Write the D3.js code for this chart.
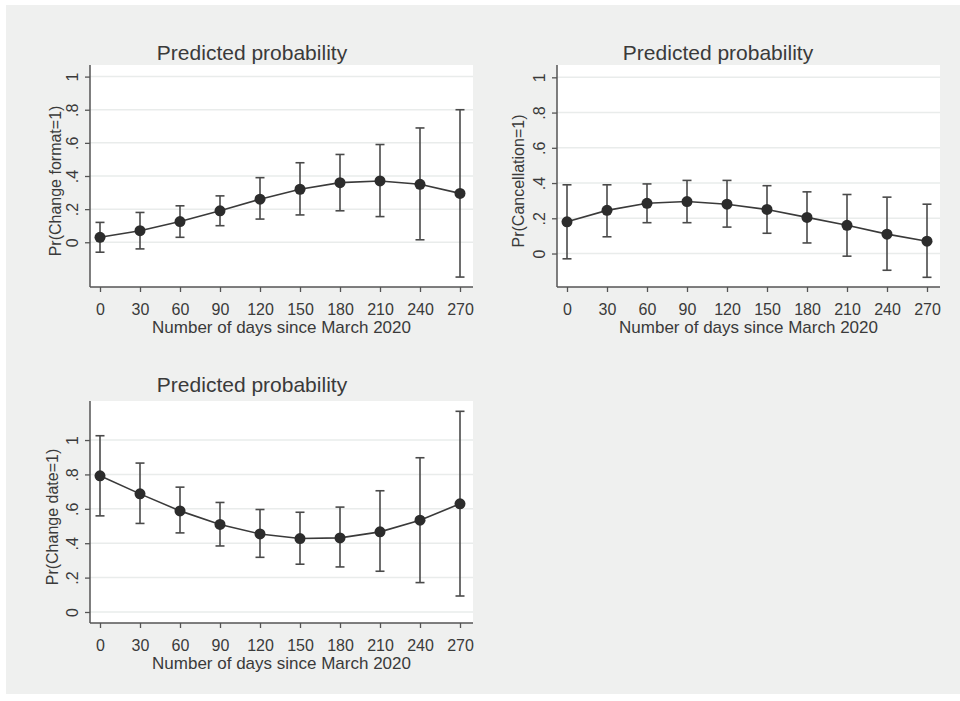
<!DOCTYPE html>
<html>
<head>
<meta charset="utf-8">
<script src="https://cdn.jsdelivr.net/npm/d3@7"></script>
<style>
  body { margin: 0; background: #ffffff; }
  text { font-family: "Liberation Sans", Arial, sans-serif; fill: #3a3a3a; }
</style>
</head>
<body>
<div id="chart"></div>
<script>
// days since March 2020
var days = [0, 30, 60, 90, 120, 150, 180, 210, 240, 270];

// Pr(Change format=1)
var formatEst = [0.03, 0.07, 0.125, 0.19, 0.26, 0.32, 0.36, 0.37, 0.35, 0.295];
var formatLo  = [-0.06, -0.04, 0.03, 0.10, 0.14, 0.165, 0.19, 0.155, 0.015, -0.21];
var formatHi  = [0.12, 0.18, 0.22, 0.28, 0.39, 0.48, 0.53, 0.59, 0.69, 0.80];

// Pr(Cancellation=1)
var cancelEst = [0.18, 0.245, 0.285, 0.295, 0.28, 0.25, 0.205, 0.16, 0.11, 0.07];
var cancelLo  = [-0.03, 0.095, 0.175, 0.175, 0.15, 0.115, 0.06, -0.015, -0.095, -0.135];
var cancelHi  = [0.39, 0.39, 0.395, 0.415, 0.415, 0.385, 0.35, 0.335, 0.32, 0.28];

// Pr(Change date=1)
var dateEst = [0.792, 0.687, 0.588, 0.509, 0.454, 0.427, 0.431, 0.466, 0.534, 0.629];
var dateLo  = [0.559, 0.515, 0.46, 0.384, 0.318, 0.278, 0.262, 0.237, 0.171, 0.093];
var dateHi  = [1.025, 0.866, 0.726, 0.637, 0.596, 0.58, 0.61, 0.705, 0.897, 1.167];

var yTicks = [0, 0.2, 0.4, 0.6, 0.8, 1];
var yTickLabels = ["0", ".2", ".4", ".6", ".8", "1"];
var xTitle = "Number of days since March 2020";
var title = "Predicted probability";

var panels = [
  {ytitle: "Pr(Change format=1)", est: formatEst, lo: formatLo, hi: formatHi,
   left: 90, right: 473, top: 65, bottom: 287, ydom: [-0.27, 1.07], titleX: 252, titleY: 59.5, yTitleOff: -29},
  {ytitle: "Pr(Cancellation=1)", est: cancelEst, lo: cancelLo, hi: cancelHi,
   left: 557, right: 940, top: 65, bottom: 287, ydom: [-0.19, 1.07], titleX: 718, titleY: 59.5, yTitleOff: -33},
  {ytitle: "Pr(Change date=1)", est: dateEst, lo: dateLo, hi: dateHi,
   left: 90, right: 473, top: 401, bottom: 623, ydom: [-0.064, 1.227], titleX: 252, titleY: 392, yTitleOff: -32}
];

var svg = d3.select("#chart").append("svg")
  .attr("width", 960).attr("height", 701);

// outer graph background
svg.append("rect")
  .attr("x", 6).attr("y", 5).attr("width", 954).attr("height", 689)
  .attr("fill", "#eff0ef");

panels.forEach(function(p) {
  var x = d3.scaleLinear().domain([-7.5, 279.75]).range([p.left, p.right]);
  var y = d3.scaleLinear().domain(p.ydom).range([p.bottom, p.top]);
  var g = svg.append("g");

  // plot region
  g.append("rect")
    .attr("x", p.left).attr("y", p.top)
    .attr("width", p.right - p.left).attr("height", p.bottom - p.top)
    .attr("fill", "#ffffff");

  // gridlines
  g.selectAll(".grid").data(yTicks).enter().append("line")
    .attr("x1", p.left).attr("x2", p.right)
    .attr("y1", function(d) { return y(d); })
    .attr("y2", function(d) { return y(d); })
    .attr("stroke", "#e9eceb").attr("stroke-width", 1.5);

  // y axis
  var yAxis = g.append("g")
    .attr("transform", "translate(" + p.left + ",0)")
    .call(d3.axisLeft(y).tickValues(yTicks).tickSize(5)
      .tickFormat(function(d, i) { return yTickLabels[i]; }));
  yAxis.select(".domain").attr("d", "M0," + p.top + "V" + p.bottom)
    .attr("stroke", "#555").attr("stroke-width", 1.5);
  yAxis.selectAll(".tick line").attr("stroke", "#555").attr("stroke-width", 1.3);
  yAxis.selectAll(".tick text")
    .attr("x", null).attr("dy", null)
    .attr("transform", "translate(-12,0) rotate(-90)")
    .attr("text-anchor", "middle")
    .style("font-size", "16px");

  // x axis
  var xAxis = g.append("g")
    .attr("transform", "translate(0," + p.bottom + ")")
    .call(d3.axisBottom(x).tickValues(days).tickSize(5).tickFormat(d3.format("d")));
  xAxis.select(".domain").attr("d", "M" + p.left + ",0H" + p.right)
    .attr("stroke", "#555").attr("stroke-width", 1.5);
  xAxis.selectAll(".tick line").attr("stroke", "#555").attr("stroke-width", 1.3);
  xAxis.selectAll(".tick text")
    .attr("y", 28).attr("dy", null)
    .style("font-size", "16px");
  svg.selectAll(".tick text").style("fill", "#3a3a3a").attr("font-family", null);

  // titles
  g.append("text")
    .attr("x", p.titleX).attr("y", p.titleY)
    .attr("text-anchor", "middle").style("font-size", "21px")
    .text(title);
  g.append("text")
    .attr("x", (p.left + p.right) / 2 + 0).attr("y", p.bottom + 46)
    .attr("text-anchor", "middle").style("font-size", "17px")
    .text(xTitle);
  g.append("text")
    .attr("transform", "translate(" + (p.left + p.yTitleOff) + "," + ((p.top + p.bottom) / 2 + 5) + ") rotate(-90)")
    .attr("text-anchor", "middle").style("font-size", "16px")
    .text(p.ytitle);

  // confidence intervals
  var ci = g.selectAll(".ci").data(days).enter().append("g");
  ci.append("line")
    .attr("x1", function(d) { return x(d); }).attr("x2", function(d) { return x(d); })
    .attr("y1", function(d, i) { return y(p.lo[i]); })
    .attr("y2", function(d, i) { return y(p.hi[i]); })
    .attr("stroke", "#4a4a4a").attr("stroke-width", 1.6);
  ["lo", "hi"].forEach(function(k) {
    ci.append("line")
      .attr("x1", function(d) { return x(d) - 4.5; }).attr("x2", function(d) { return x(d) + 4.5; })
      .attr("y1", function(d, i) { return y(p[k][i]); })
      .attr("y2", function(d, i) { return y(p[k][i]); })
      .attr("stroke", "#4a4a4a").attr("stroke-width", 1.6);
  });

  // connecting line
  g.append("path")
    .datum(days)
    .attr("fill", "none").attr("stroke", "#3a3a3a").attr("stroke-width", 1.6)
    .attr("d", d3.line()
      .x(function(d) { return x(d); })
      .y(function(d, i) { return y(p.est[i]); }));

  // markers
  g.selectAll(".pt").data(days).enter().append("circle")
    .attr("cx", function(d) { return x(d); })
    .attr("cy", function(d, i) { return y(p.est[i]); })
    .attr("r", 5.5)
    .attr("fill", "#2c2c2c");
});
</script>
</body>
</html>
